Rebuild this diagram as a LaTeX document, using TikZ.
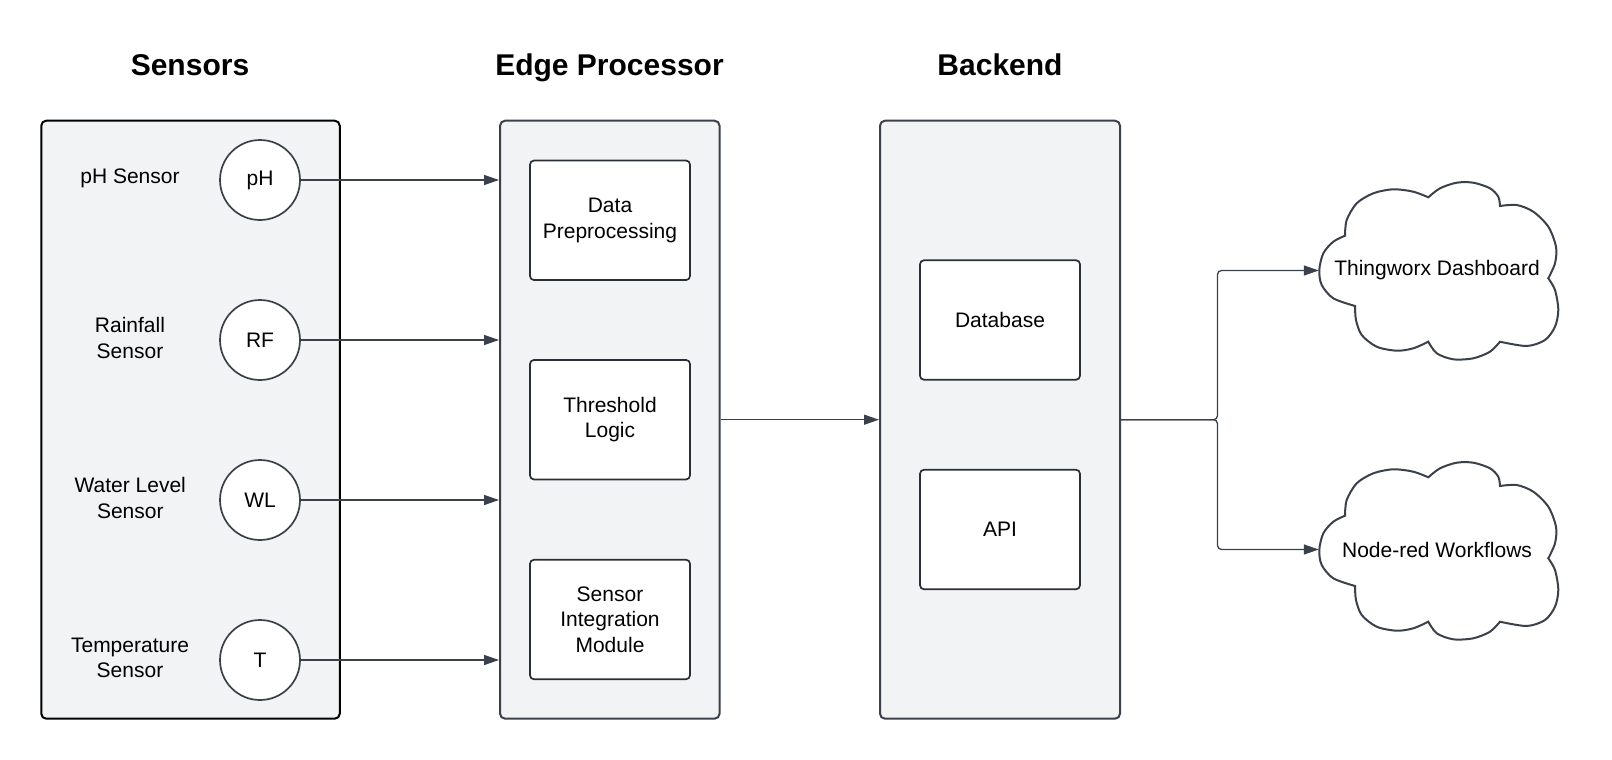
\documentclass[tikz,border=0pt]{standalone}
\usepackage{fontspec}
\setmainfont{Liberation Sans}
\usetikzlibrary{arrows.meta}
\definecolor{panel}{HTML}{F2F3F5}
\definecolor{edgeline}{HTML}{3A414A}
\definecolor{inkline}{HTML}{2A2E35}
\newcommand{\mycloudoutline}{%
  (-93.5,-34.3)
  -- plot[smooth] coordinates {(-93.5,-34.3) (-91.8,-50) (-81.8,-66.7) (-65.2,-76.7) (-45.2,-80.7) (-25.2,-78.3) (-10.2,-72.7)}
  -- plot[smooth] coordinates {(-10.2,-72.7) (1.5,-81.7) (18.2,-87.3) (34.8,-87.3) (51.5,-81.7) (59.8,-73.3) (61.5,-64)}
  -- plot[smooth] coordinates {(61.5,-64) (78.2,-65) (94.8,-58.3) (109.8,-43.3) (117.5,-23.3) (116.5,-6.7) (109.8,8.3)}
  -- plot[smooth] coordinates {(109.8,8.3) (116.5,20) (119.8,40) (116.5,56.7) (106.5,70) (88.2,76) (61.5,71.7)}
  -- plot[smooth] coordinates {(61.5,71.7) (51.5,81.7) (34.8,88.3) (14.8,89.3) (-1.8,83.3) (-10.2,71.7)}
  -- plot[smooth] coordinates {(-10.2,71.7) (-25.2,78.3) (-41.8,80.7) (-61.8,76.7) (-76.8,65) (-82.5,50) (-83.5,36)}
  -- plot[smooth] coordinates {(-83.5,36) (-105.2,28.3) (-116.8,15) (-119.2,0) (-115.2,-16.7) (-105.2,-28.3) (-93.5,-34.3)}
  -- cycle}
\begin{document}
\begin{tikzpicture}[x=1pt,y=-1pt,
  txt/.style={font=\fontsize{21}{25.5}\selectfont, align=center, inner sep=0pt},
  titletxt/.style={font=\fontsize{30}{36}\selectfont\bfseries, inner sep=0pt, anchor=base},
  panelbox/.style={draw=edgeline, line width=2pt, fill=panel, rounded corners=5pt, inner sep=0pt, minimum height=598pt},
  innerbox/.style={draw=inkline, line width=1.7pt, fill=white, rounded corners=4pt, minimum width=160pt, minimum height=119.5pt, txt},
  sensorcirc/.style={circle, draw=edgeline, line width=1.7pt, fill=white, minimum size=80pt, inner sep=0pt, txt},
  cloudtxt/.style={txt, minimum width=236pt, minimum height=20pt},
  cloudline/.style={draw=edgeline, line width=2pt, fill=white},
  arr/.style={draw=edgeline, line width=1.3pt, -{Triangle[length=15pt,width=10pt]}}
]
\useasboundingbox[fill=white] (0,0) rectangle (1612,760);

% titles
\node[titletxt] (t1) at (190,76) {Sensors};
\node[titletxt] (t2) at (609.5,76) {Edge Processor};
\node[titletxt] (t3) at (1000,76) {Backend};

% panels
\node[panelbox, draw=black, minimum width=298.5pt] (sensors) at (190.5,419.7) {};
\node[panelbox, minimum width=219.5pt] (edge) at (609.8,419.7) {};
\node[panelbox, minimum width=240pt] (backend) at (1000,419.7) {};

% sensors
\node[sensorcirc] (ph) at (260,180) {pH};
\node[sensorcirc] (rf) at (260,340) {RF};
\node[sensorcirc] (wl) at (260,500) {WL};
\node[sensorcirc] (tc) at (260,660) {T};
\node[txt] (phl) at (130,178) {pH Sensor};
\node[txt] (rfl) at (130,338) {Rainfall\\Sensor};
\node[txt] (wll) at (130.3,498) {Water Level\\Sensor};
\node[txt] (tcl) at (130,658) {Temperature\\Sensor};

% edge processor
\node[innerbox] (pre) at (610,220.3) {Data\\Preprocessing};
\node[innerbox] (thr) at (610,419.7) {Threshold\\Logic};
\node[innerbox] (sim) at (610,619.5) {Sensor\\Integration\\Module};

% backend
\node[innerbox] (db) at (1000,320) {Database};
\node[innerbox] (api) at (1000,529.5) {API};

% clouds
\begin{scope}[shift={(1438.5,270)}]
  \path[cloudline] \mycloudoutline;
\end{scope}
\begin{scope}[shift={(1438.5,550)}]
  \path[cloudline] \mycloudoutline;
\end{scope}
\node[cloudtxt] (cl1) at (1437,270.5) {Thingworx Dashboard};
\node[cloudtxt] (cl2) at (1437,549.5) {Node-red Workflows};

% connectors
\draw[arr] (ph.east) -- (ph.east -| edge.west);
\draw[arr] (rf.east) -- (rf.east -| edge.west);
\draw[arr] (wl.east) -- (wl.east -| edge.west);
\draw[arr] (tc.east) -- (tc.east -| edge.west);
\draw[arr] (edge.east) -- (backend.west);
\coordinate (fork) at (1217.5,419.7);
\draw[arr, rounded corners=4pt] (backend.east) -- (fork) |- (cl1.west);
\draw[arr, rounded corners=4pt] (backend.east) -- (fork) |- (cl2.west);
\end{tikzpicture}
\end{document}
